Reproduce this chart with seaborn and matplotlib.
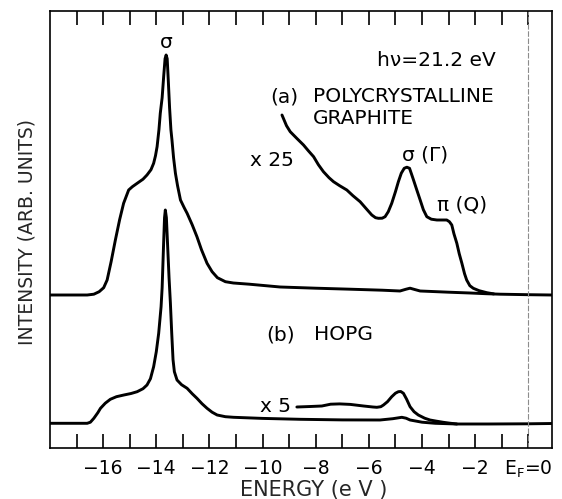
import numpy as np
import matplotlib
matplotlib.use("Agg")
import matplotlib.pyplot as plt
import seaborn as sns

# binding energy (eV) and intensity (arb. units)
# (a) polycrystalline graphite
a_energy = [-18.0, -16.6, -16.35, -16.15, -15.98, -15.85, -15.7, -15.54, -15.38, -15.23,
            -15.04, -14.9, -14.72, -14.5, -14.35, -14.2, -14.1, -14.03, -13.97, -13.9,
            -13.85, -13.78, -13.72, -13.67, -13.63, -13.59, -13.55, -13.5, -13.45, -13.41,
            -13.35, -13.28, -13.2, -13.09, -12.95, -12.84, -12.65, -12.47, -12.3, -12.09,
            -11.9, -11.7, -11.4, -11.1, -10.5, -9.34, -8.0, -6.71, -5.5, -4.83,
            -4.6, -4.45, -4.25, -4.07, -3.0, -2.19, -1.6, -1.06, 0.0, 0.88]
a_intensity = [152.7, 152.7, 153.5, 156, 160, 167.7, 186, 207.7, 228, 244.4,
               257.7, 261, 264.4, 268.5, 272.7, 278, 284.4, 292, 301, 318,
               334.4, 350, 372, 389, 392.7, 389, 368, 340, 318, 307.7,
               290, 274.4, 262, 247.7, 240, 234.4, 223, 211, 198, 184.4,
               176, 170, 166, 164.7, 163.5, 160.7, 159.5, 158.5, 157.5, 156.7,
               158.5, 159.5, 158, 156.7, 155.5, 154.7, 154, 153.5, 153, 152.7]

# (a) x25 magnified valence region
a25_energy = [-9.27, -9.1, -8.96, -8.7, -8.46, -8.28, -8.08, -7.9, -7.71, -7.5,
              -7.33, -7.1, -6.83, -6.6, -6.33, -6.1, -5.89, -5.75, -5.64, -5.5,
              -5.39, -5.27, -5.14, -5.0, -4.89, -4.78, -4.67, -4.57, -4.47, -4.4,
              -4.32, -4.2, -4.07, -3.95, -3.82, -3.65, -3.44, -3.25, -3.07, -2.97,
              -2.88, -2.8, -2.69, -2.6, -2.5, -2.4, -2.32, -2.2, -2.07, -1.85,
              -1.56, -1.3]
a25_intensity = [332.7, 322, 316, 309, 302.7, 297, 291, 283, 276, 270,
                 266, 262, 257.7, 252, 246, 239, 232.7, 230, 229.4, 229.5,
                 231, 236, 244.4, 256, 266, 274.5, 279.4, 280.5, 279.4, 274,
                 267.7, 258, 247.7, 238, 231, 228.5, 227.7, 227.7, 227.7, 226,
                 222.7, 214, 204.4, 194, 184.4, 174, 167.7, 162, 159.4, 157,
                 155, 153.8]

# (b) HOPG
b_energy = [-18.0, -16.6, -16.48, -16.35, -16.2, -16.1, -15.92, -15.73, -15.5, -15.22,
            -14.95, -14.72, -14.5, -14.35, -14.22, -14.1, -14.0, -13.91, -13.82, -13.78,
            -13.73, -13.69, -13.66, -13.62, -13.57, -13.52, -13.47, -13.42, -13.37, -13.32,
            -13.22, -13.05, -12.84, -12.65, -12.47, -12.28, -12.09, -11.9, -11.71, -11.4,
            -11.09, -10.0, -8.58, -7.0, -5.58, -5.1, -4.76, -4.6, -4.45, -4.0,
            -3.5, -2.69, -1.5, 0.0, 0.88]
b_intensity = [24.4, 24.4, 25.5, 29.4, 35, 39.4, 44.5, 48.4, 51, 52.7,
               54.2, 56, 59, 62.7, 69, 81, 96, 114.4, 141, 160,
               200, 230, 237.7, 230, 200, 170, 145, 115, 88, 76,
               67.7, 63, 59.4, 54, 49.4, 44, 39.4, 35.5, 32.7, 31,
               30.4, 29.3, 28.4, 27.8, 27.7, 29, 30.4, 29.5, 27.7, 25.5,
               24.4, 23.7, 23.7, 23.9, 24.2]

# (b) x5 magnified valence region
b5_energy = [-8.71, -8.2, -7.77, -7.44, -7.1, -6.7, -6.2, -5.85, -5.7, -5.55,
             -5.45, -5.3, -5.14, -5.0, -4.89, -4.8, -4.7, -4.58, -4.45, -4.3,
             -4.14, -3.9, -3.7, -3.45, -3.2, -2.95, -2.69]
b5_intensity = [40.7, 41.2, 41.7, 43.5, 43.8, 43.3, 41.7, 40.7, 40.4, 41,
                42.7, 46, 51, 54.5, 56, 56.2, 54.4, 48.5, 41, 36,
                32.7, 29.5, 27.7, 26.5, 25.4, 24.5, 23.7]

minor_ticks = list(range(-17, 1))
tick_labels = ["" if t % 2 else "\u2212%d" % -t for t in minor_ticks[:-1]] + ["$\\mathregular{E_F}$=0"]

sns.set_theme(style="ticks")
plt.rcParams["font.family"] = ["DejaVu Sans"]
plt.rcParams["mathtext.fontset"] = "dejavusans"
plt.rcParams["xtick.bottom"] = True
plt.rcParams["xtick.top"] = True

fig = plt.figure(figsize=(5.62, 4.99), dpi=100)
ax = fig.add_axes([50 / 562, 1 - 447.7 / 499, 501.7 / 562, 436.7 / 499])

line_kw = dict(color="black", linewidth=2.1, sort=False, estimator=None, ax=ax)
sns.lineplot(x=a_energy, y=a_intensity, **line_kw)
sns.lineplot(x=a25_energy, y=a25_intensity, **line_kw)
sns.lineplot(x=b_energy, y=b_intensity, **line_kw)
sns.lineplot(x=b5_energy, y=b5_intensity, **line_kw)

ax.axvline(0, color="0.55", linewidth=0.8, linestyle=(0, (5, 1.5)))

ax.set_xlim(-18, 0.88)
ax.set_ylim(0, 436.7)
ax.set_xticks(minor_ticks)
ax.set_xticklabels(tick_labels, fontsize=13.5)
ax.set_yticks([])
ax.tick_params(axis="x", which="major", direction="in", length=10, width=1.2,
               top=True, bottom=True, labeltop=False, pad=8, colors="black")
for s in ax.spines.values():
    s.set_visible(True)
    s.set_linewidth(1.2)
    s.set_color("black")

txt = dict(fontsize=14.5, color="black", va="center")
ax.text(-13.62, 405, "\u03c3", ha="center", **txt)
ax.text(-5.70, 387.7, "h\u03bd=21.2 eV", ha="left", **txt)
ax.text(-9.71, 351, "(a)", ha="left", **txt)
ax.text(-8.09, 351, "POLYCRYSTALLINE", ha="left", **txt)
ax.text(-8.09, 329.4, "GRAPHITE", ha="left", **txt)
ax.text(-10.46, 287.7, "x 25", ha="left", **txt)
ax.text(-4.76, 292.7, "\u03c3 (\u0393)", ha="left", **txt)
ax.text(-3.44, 242.7, "\u03c0 (Q)", ha="left", **txt)
ax.text(-9.85, 112.7, "(b)", ha="left", **txt)
ax.text(-8.06, 112.7, "HOPG", ha="left", **txt)
ax.text(-10.09, 40.7, "x 5", ha="left", **txt)

fig.text(27 / 562, 1 - 232 / 499, "INTENSITY (ARB. UNITS)", rotation=90,
         ha="center", va="center", fontsize=13.5)
fig.text(314 / 562, 1 - 490 / 499, "ENERGY (e V )", ha="center", va="center",
         fontsize=15)

fig.savefig("out.png", dpi=100)
